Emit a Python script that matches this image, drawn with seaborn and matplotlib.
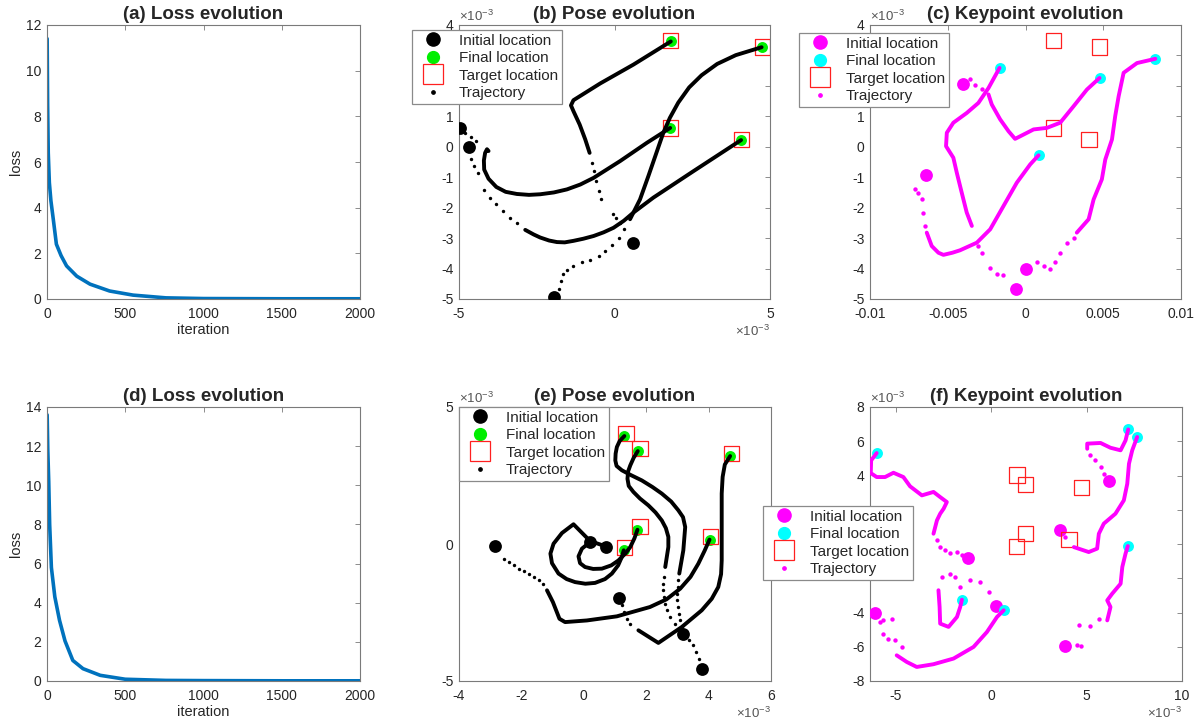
import numpy as np
import seaborn as sns
import matplotlib
matplotlib.use("Agg")
import matplotlib.pyplot as plt
from matplotlib.lines import Line2D

sns.set_style("white")
plt.rcParams['font.family'] = ['Liberation Sans', 'DejaVu Sans']
plt.rcParams['mathtext.fontset'] = 'custom'
plt.rcParams['mathtext.rm'] = 'Liberation Sans'
plt.rcParams['mathtext.it'] = 'Liberation Sans:italic'
plt.rcParams['axes.unicode_minus'] = False

# ---------------- loss curves ----------------
loss_a_iter = [1, 4, 8, 15, 25, 40, 60, 90, 125, 190, 275, 400, 550, 760, 1000, 1500, 2000]
loss_a_val = [11.4, 8.5, 6.4, 5.1, 4.3, 3.5, 2.4, 1.9, 1.45, 1.0, 0.65, 0.35, 0.17, 0.05, 0.02, 0.01, 0.01]
loss_d_iter = [1, 5, 11, 17, 28, 50, 80, 115, 165, 230, 340, 500, 760, 1000, 1500, 2000]
loss_d_val = [13.6, 11.8, 10.2, 8.0, 5.8, 4.3, 3.1, 2.05, 1.05, 0.63, 0.29, 0.09, 0.03, 0.02, 0.01, 0.01]

# ---------------- top row (units of 1e-3) ----------------
target_top_x = [1.80, 4.75, 1.80, 4.08]
target_top_y = [3.48, 3.28, 0.62, 0.24]

pose_b_init_x = [-4.96, -4.69, -1.93, 0.58]
pose_b_init_y = [0.62, -0.01, -4.93, -3.17]
pose_b_final_x = [1.79, 4.07, 4.73, 1.81]
pose_b_final_y = [0.62, 0.22, 3.27, 3.46]

pose_b1_sparse = [(-4.80, 0.44), (-4.62, 0.33), (-4.44, 0.19)]
pose_b1_dense = [(-4.05, -0.14), (-4.10, -0.08), (-4.16, -0.20), (-4.20, -0.45), (-4.19, -0.75),
                 (-4.05, -1.05), (-3.80, -1.32), (-3.50, -1.48), (-3.14, -1.55), (-2.75, -1.58),
                 (-2.39, -1.56), (-1.95, -1.50), (-1.53, -1.40), (-1.10, -1.24), (-0.67, -1.02),
                 (0.18, -0.47), (1.04, 0.13), (1.79, 0.62)]
pose_b2_sparse = [(-4.60, -0.39), (-4.51, -0.63), (-4.40, -0.85), (-4.21, -1.42), (-4.01, -1.67),
                  (-3.80, -1.89), (-3.59, -2.11), (-3.35, -2.33), (-3.12, -2.51)]
pose_b2_dense = [(-2.87, -2.73), (-2.60, -2.88), (-2.39, -2.98), (-2.10, -3.08), (-1.85, -3.13),
                 (-1.60, -3.14), (-1.32, -3.09), (-1.00, -3.02), (-0.67, -2.93), (-0.35, -2.81),
                 (-0.03, -2.66), (0.30, -2.43), (0.61, -2.16), (1.25, -1.67), (2.54, -0.80),
                 (4.07, 0.22)]
pose_b3_sparse = [(-1.77, -4.68), (-1.71, -4.40), (-1.67, -4.19), (-1.53, -4.04), (-1.32, -3.91),
                  (-1.05, -3.80), (-0.78, -3.72), (-0.51, -3.58), (-0.30, -3.42), (-0.09, -3.23),
                  (0.13, -2.98), (0.31, -2.71)]
pose_b3_dense = [(0.50, -2.38), (0.82, -1.73), (1.09, -0.96), (1.31, -0.31), (1.57, 0.46),
                 (1.78, 0.95), (2.05, 1.45), (2.40, 1.95), (2.80, 2.35), (3.30, 2.72),
                 (3.90, 3.01), (4.73, 3.27)]
pose_b4_sparse = [(0.18, -2.51), (0.05, -2.33), (-0.05, -2.20), (-0.44, -1.70), (-0.51, -1.45),
                  (-0.59, -1.13), (-0.65, -0.80), (-0.72, -0.52)]
pose_b4_dense = [(-0.80, -0.20), (-0.94, 0.24), (-1.12, 0.73), (-1.32, 1.17), (-1.40, 1.36),
                 (-1.32, 1.53), (-0.46, 2.08), (0.61, 2.70), (1.81, 3.46)]

kp_c_init_x = [-4.03, -6.39, -0.64, 0.02]
kp_c_init_y = [2.07, -0.94, -4.68, -4.00]
kp_c_final_x = [4.76, 0.84, -1.67, 8.35]
kp_c_final_y = [2.26, -0.28, 2.59, 2.89]

kp_c1_sparse = [(-3.56, 2.23), (-3.24, 2.04), (-2.81, 1.90)]
kp_c1_dense = [(-2.38, 1.72), (-2.17, 1.39), (-1.63, 0.90), (-1.09, 0.51), (-0.67, 0.26),
               (-0.13, 0.40), (0.52, 0.57), (1.37, 0.62), (2.23, 0.79), (3.09, 1.33),
               (3.95, 1.88), (4.76, 2.26)]
kp_c2_sparse = [(-7.10, -1.40), (-6.89, -1.51), (-6.67, -1.73), (-6.57, -2.16), (-6.46, -2.60)]
kp_c2_dense = [(-6.35, -2.82), (-6.03, -3.26), (-5.60, -3.48), (-5.28, -3.55), (-4.70, -3.48),
               (-4.21, -3.40), (-3.13, -3.15), (-2.27, -2.71), (-1.42, -1.95), (-0.56, -1.18),
               (0.30, -0.58), (0.84, -0.28)]
kp_c3_sparse = [(-1.42, -4.22), (-1.85, -4.19), (-2.27, -3.97), (-2.81, -3.48), (-3.03, -3.26)]
kp_c3_dense = [(-3.45, -2.60), (-3.78, -2.16), (-4.10, -1.51), (-4.42, -0.85), (-4.64, -0.36),
               (-5.11, 0.02), (-5.06, 0.46), (-4.64, 0.79), (-3.78, 1.11), (-3.03, 1.44),
               (-2.38, 1.93), (-1.67, 2.59)]
kp_c4_sparse = [(0.73, -3.80), (1.16, -3.91), (1.59, -4.02), (1.91, -3.80), (2.23, -3.48),
                (2.66, -3.15), (3.09, -2.99)]
kp_c4_dense = [(3.30, -2.82), (4.06, -2.38), (4.38, -1.73), (4.91, -1.07), (5.13, -0.42),
               (5.56, 0.24), (5.77, 1.01), (5.99, 1.66), (6.31, 2.43), (7.17, 2.75), (8.35, 2.89)]

# ---------------- bottom row (units of 1e-3) ----------------
target_bot_x = [1.35, 1.80, 4.74, 1.80, 4.07, 1.31]
target_bot_y = [4.03, 3.49, 3.30, 0.63, 0.26, -0.13]

pose_e_init_x = [-2.86, 0.72, 0.20, 1.13, 3.19, 3.78]
pose_e_init_y = [-0.07, -0.11, 0.07, -1.97, -3.27, -4.57]
pose_e_final_x = [4.03, 1.28, 1.72, 4.69, 1.30, 1.73]
pose_e_final_y = [0.16, -0.23, 0.52, 3.21, 3.94, 3.39]

pose_e1_sparse = [(-2.57, -0.56), (-2.41, -0.66), (-2.25, -0.78), (-2.09, -0.90), (-1.93, -0.99),
                  (-1.77, -1.11), (-1.61, -1.20), (-1.45, -1.33), (-1.31, -1.47)]
pose_e1_dense = [(-1.18, -1.69), (-0.99, -2.12), (-0.78, -2.73), (-0.60, -2.85), (0.10, -2.79),
                 (1.06, -2.64), (2.12, -2.30), (2.65, -2.02), (3.09, -1.63), (3.42, -1.20),
                 (3.67, -0.72), (3.87, -0.25), (4.03, 0.16)]
pose_e2_sparse = []
pose_e2_dense = [(0.71, -0.09), (0.20, 0.11), (-0.33, 0.72), (-0.70, 0.40), (-0.97, 0.01),
                 (-1.07, -0.35), (-1.02, -0.70), (-0.81, -1.08), (-0.55, -1.28), (-0.28, -1.39),
                 (0.05, -1.45), (0.36, -1.42), (0.68, -1.28), (0.90, -1.08), (1.10, -0.78),
                 (1.22, -0.47), (1.28, -0.23)]
pose_e3_sparse = []
pose_e3_dense = [(0.20, 0.07), (-0.06, -0.17), (-0.17, -0.45), (-0.12, -0.70), (0.04, -0.84),
                 (0.30, -0.91), (0.58, -0.90), (0.88, -0.78), (1.11, -0.60), (1.33, -0.35),
                 (1.49, -0.11), (1.62, 0.20), (1.72, 0.52)]
pose_e4_sparse = [(1.22, -2.24), (1.29, -2.48), (1.38, -2.73), (1.49, -2.91)]
pose_e4_dense = [(1.75, -3.15), (2.39, -3.61), (3.14, -3.03), (3.78, -2.42), (4.10, -2.00),
                 (4.31, -1.57), (4.40, -1.10), (4.42, -0.60), (4.42, 0.62), (4.42, 1.84),
                 (4.45, 2.45), (4.52, 2.90), (4.69, 3.21)]
pose_e5_sparse = [(3.14, -3.03), (3.09, -2.79), (3.04, -2.54), (3.01, -2.30), (3.00, -2.06),
                  (3.00, -1.81), (3.01, -1.57), (3.03, -1.33)]
pose_e5_dense = [(3.06, -1.08), (3.19, -0.23), (3.25, 0.62), (3.18, 0.98), (3.03, 1.23),
                 (2.80, 1.55), (2.50, 1.84), (2.20, 2.08), (1.86, 2.32), (1.50, 2.52),
                 (1.22, 2.69), (1.05, 2.85), (1.01, 3.05), (1.02, 3.30), (1.06, 3.54),
                 (1.15, 3.76), (1.30, 3.94)]
pose_e6_sparse = [(3.70, -4.21), (3.60, -3.94), (3.49, -3.70), (3.37, -3.49), (2.93, -2.91),
                  (2.77, -2.66), (2.66, -2.42), (2.61, -2.18), (2.58, -1.93), (2.55, -1.69),
                  (2.55, -1.45), (2.58, -1.20)]
pose_e6_dense = [(2.61, -0.84), (2.71, -0.11), (2.71, 0.26), (2.63, 0.58), (2.50, 0.86),
                 (2.30, 1.15), (2.07, 1.41), (1.80, 1.66), (1.59, 1.90), (1.44, 2.12),
                 (1.40, 2.38), (1.42, 2.65), (1.49, 2.87), (1.60, 3.15), (1.73, 3.39)]

kp_f_init_x = [-1.24, 0.25, -6.09, 3.89, 3.59, 6.16]
kp_f_init_y = [-0.80, -3.64, -4.03, -5.97, 0.80, 3.68]
kp_f_final_x = [-6.01, -1.54, 0.65, 7.16, 7.65, 7.18]
kp_f_final_y = [5.31, -3.25, -3.87, -0.12, 6.25, 6.69]

kp_f1_sparse = [(-1.54, -0.66), (-1.80, -0.47), (-2.15, -0.53), (-2.42, -0.37), (-2.68, -0.18),
                (-2.85, 0.21)]
kp_f1_dense = [(-3.03, 0.60), (-2.94, 0.99), (-2.85, 1.38), (-2.68, 1.77), (-2.50, 2.06),
               (-2.33, 2.45), (-2.68, 2.74), (-3.03, 3.04), (-3.64, 2.84), (-4.26, 3.37),
               (-4.61, 3.91), (-5.13, 4.16), (-5.57, 3.91), (-6.01, 3.91), (-6.32, 4.14),
               (-6.30, 4.88), (-6.01, 5.31)]
kp_f2_sparse = [(-0.14, -2.80), (-0.58, -2.22), (-1.10, -2.12), (-1.63, -2.51), (-1.89, -1.93),
                (-2.15, -1.73), (-2.59, -1.93)]
kp_f2_dense = [(-2.77, -2.70), (-2.71, -3.68), (-2.68, -4.65), (-2.24, -4.84), (-1.80, -4.26),
               (-1.63, -3.68), (-1.54, -3.25)]
kp_f3_sparse = [(-5.83, -4.55), (-5.66, -4.46), (-5.22, -4.36), (-5.66, -5.23), (-5.39, -5.53),
                (-5.04, -5.62), (-4.69, -6.01)]
kp_f3_dense = [(-4.96, -6.50), (-4.43, -6.89), (-3.91, -7.18), (-3.03, -7.02), (-1.98, -6.69),
               (-0.93, -6.01), (-0.23, -5.14), (0.30, -4.26), (0.65, -3.87)]
kp_f4_sparse = [(4.50, -5.91), (4.68, -5.97), (4.59, -4.75), (5.20, -4.79), (5.64, -4.36)]
kp_f4_dense = [(6.08, -4.46), (6.25, -3.68), (6.08, -3.29), (6.34, -2.90), (6.78, -2.32),
               (6.87, -1.34), (7.04, -0.56), (7.16, -0.12)]
kp_f5_sparse = [(3.89, 0.41)]
kp_f5_dense = [(4.33, -0.18), (5.11, -0.47), (5.55, -0.27), (5.64, 0.60), (5.90, 1.19),
               (6.51, 1.77), (6.95, 2.55), (7.13, 3.52), (7.22, 4.69), (7.39, 5.47), (7.65, 6.25)]
kp_f6_sparse = [(5.90, 4.11), (5.73, 4.49), (5.46, 4.88), (5.20, 5.18)]
kp_f6_dense = [(5.03, 5.56), (5.03, 5.86), (5.73, 5.90), (6.25, 5.62), (6.78, 5.47),
               (7.04, 6.05), (7.18, 6.69)]

AX_COLOR = '#262626'
SPINE = '#7a7a7a'
TITLE_FS = 13.5


def style_axes(ax):
    ax.tick_params(direction='in', top=True, right=True, length=3.5, width=0.6,
                   labelsize=10, colors=AX_COLOR, pad=4)
    ax.tick_params(axis='x', pad=6)
    ax.tick_params(axis='both', which='both', color=SPINE)
    for s in ax.spines.values():
        s.set_color(SPINE)
        s.set_linewidth(0.8)
    ax.set_facecolor('white')


def exp_labels(ax, xoff=True):
    lab = r'$\times10^{-3}$'
    ax.text(0.0, 1.004, lab, transform=ax.transAxes, ha='left', va='bottom',
            fontsize=9.5, color='#555555')
    if xoff:
        ax.text(1.0, -0.09, lab, transform=ax.transAxes, ha='right', va='top',
                fontsize=9.5, color='#555555')


def hide_ylabels(ax, ticks, hidden):
    ax.set_yticks(ticks)
    ax.set_yticklabels(['' if t in hidden else str(t) for t in ticks])


def loss_panel(ax, iters, vals, ymax, title):
    sns.lineplot(x=iters, y=vals, color='#0072BD', lw=2.6, ax=ax)
    ax.set_xlim(0, 2000)
    ax.set_ylim(0, ymax)
    ax.set_xticks([0, 500, 1000, 1500, 2000])
    ax.set_yticks(range(0, ymax + 1, 2))
    ax.set_xlabel('iteration', fontsize=10.5, color=AX_COLOR, labelpad=1)
    ax.set_ylabel('loss', fontsize=10.5, color=AX_COLOR, labelpad=2)
    ax.set_title(title, fontsize=TITLE_FS, fontweight='bold', pad=4)
    style_axes(ax)


def draw_traj(ax, sparse, dense, color, lw, dot):
    if len(sparse):
        sp = np.array(sparse)
        sns.scatterplot(x=sp[:, 0], y=sp[:, 1], color=color, s=dot, linewidth=0,
                        ax=ax, zorder=5)
    d = np.array(dense)
    sns.lineplot(x=d[:, 0], y=d[:, 1], sort=False, estimator=None, color=color,
                 lw=lw, ax=ax, zorder=5, solid_joinstyle='round', solid_capstyle='round')


def marker_panel(ax, ix, iy, fx, fy, tx, ty, trajs, c_init, c_fin, c_traj, lw, dot):
    sns.scatterplot(x=ix, y=iy, color=c_init, s=85, linewidth=0, ax=ax, zorder=3)
    sns.scatterplot(x=fx, y=fy, color=c_fin, s=62, linewidth=0, ax=ax, zorder=3)
    sns.scatterplot(x=tx, y=ty, marker='s', s=120, facecolor='none', edgecolor='#ff2020',
                    linewidth=0.9, ax=ax, zorder=4)
    for sp, dn in trajs:
        draw_traj(ax, sp, dn, c_traj, lw, dot)
    style_axes(ax)


def legend_for(fig, c_init, c_fin, c_traj, anchor):
    handles = [
        Line2D([], [], ls='none', marker='o', ms=9.5, mfc=c_init, mec=c_init),
        Line2D([], [], ls='none', marker='o', ms=8.5, mfc=c_fin, mec=c_fin),
        Line2D([], [], ls='none', marker='s', ms=14, mfc='none', mec='#ff2020', mew=0.9),
        Line2D([], [], ls='none', marker='o', ms=2.4, mfc=c_traj, mec=c_traj),
    ]
    labels = ['Initial location', 'Final location', 'Target location', 'Trajectory']
    leg = fig.legend(handles, labels, loc='upper left', bbox_to_anchor=anchor,
                     bbox_transform=fig.transFigure, fontsize=11, frameon=True,
                     fancybox=False, framealpha=1, edgecolor='#8a8a8a',
                     borderpad=0.25, labelspacing=0.22, handlelength=2.2,
                     handletextpad=0.6, borderaxespad=0)
    leg.get_frame().set_linewidth(0.9)
    leg.set_zorder(10)
    return leg


fig = plt.figure(figsize=(11.99, 7.27), dpi=100)
H = 274 / 727
ax_a = fig.add_axes([47 / 1199, 1 - 299 / 727, 313 / 1199, H])
ax_b = fig.add_axes([459 / 1199, 1 - 299 / 727, 311 / 1199, H])
ax_c = fig.add_axes([870 / 1199, 1 - 299 / 727, 311 / 1199, H])
ax_d = fig.add_axes([47 / 1199, 1 - 681 / 727, 313 / 1199, H])
ax_e = fig.add_axes([459 / 1199, 1 - 681 / 727, 312 / 1199, H])
ax_f = fig.add_axes([870 / 1199, 1 - 681 / 727, 312 / 1199, H])

loss_panel(ax_a, loss_a_iter, loss_a_val, 12, '(a) Loss evolution')
loss_panel(ax_d, loss_d_iter, loss_d_val, 14, '(d) Loss evolution')

# (b) pose, top
marker_panel(ax_b, pose_b_init_x, pose_b_init_y, pose_b_final_x, pose_b_final_y,
             target_top_x, target_top_y,
             [(pose_b1_sparse, pose_b1_dense), (pose_b2_sparse, pose_b2_dense),
              (pose_b3_sparse, pose_b3_dense), (pose_b4_sparse, pose_b4_dense)],
             'black', '#00ee00', 'black', 2.8, 6)
ax_b.set_xlim(-5, 5)
ax_b.set_ylim(-5, 4)
ax_b.set_xticks([-5, 0, 5])
hide_ylabels(ax_b, list(range(-5, 5)), [2, 3])
ax_b.set_title('(b) Pose evolution', fontsize=TITLE_FS, fontweight='bold', pad=4)
exp_labels(ax_b)

# (c) keypoints, top
marker_panel(ax_c, kp_c_init_x, kp_c_init_y, kp_c_final_x, kp_c_final_y,
             target_top_x, target_top_y,
             [(kp_c1_sparse, kp_c1_dense), (kp_c2_sparse, kp_c2_dense),
              (kp_c3_sparse, kp_c3_dense), (kp_c4_sparse, kp_c4_dense)],
             '#ff00ff', '#00ffff', '#ff00ff', 2.8, 10)
ax_c.set_xlim(-10, 10)
ax_c.set_ylim(-5, 4)
ax_c.set_xticks([-10, -5, 0, 5, 10])
ax_c.set_xticklabels(['-0.01', '-0.005', '0', '0.005', '0.01'])
hide_ylabels(ax_c, list(range(-5, 5)), [2, 3])
ax_c.set_title('(c) Keypoint evolution', fontsize=TITLE_FS, fontweight='bold', pad=4)
exp_labels(ax_c, xoff=False)

# (e) pose, bottom
marker_panel(ax_e, pose_e_init_x, pose_e_init_y, pose_e_final_x, pose_e_final_y,
             target_bot_x, target_bot_y,
             [(pose_e1_sparse, pose_e1_dense), (pose_e2_sparse, pose_e2_dense),
              (pose_e3_sparse, pose_e3_dense), (pose_e4_sparse, pose_e4_dense),
              (pose_e5_sparse, pose_e5_dense), (pose_e6_sparse, pose_e6_dense)],
             'black', '#00ee00', 'black', 2.8, 6)
ax_e.set_xlim(-4, 6)
ax_e.set_ylim(-5, 5)
ax_e.set_xticks([-4, -2, 0, 2, 4, 6])
ax_e.set_yticks([-5, 0, 5])
ax_e.set_title('(e) Pose evolution', fontsize=TITLE_FS, fontweight='bold', pad=4)
exp_labels(ax_e)

# (f) keypoints, bottom
marker_panel(ax_f, kp_f_init_x, kp_f_init_y, kp_f_final_x, kp_f_final_y,
             target_bot_x, target_bot_y,
             [(kp_f1_sparse, kp_f1_dense), (kp_f2_sparse, kp_f2_dense),
              (kp_f3_sparse, kp_f3_dense), (kp_f4_sparse, kp_f4_dense),
              (kp_f5_sparse, kp_f5_dense), (kp_f6_sparse, kp_f6_dense)],
             '#ff00ff', '#00ffff', '#ff00ff', 2.8, 10)
ax_f.set_xlim(-6.36, 10)
ax_f.set_ylim(-8, 8)
ax_f.set_xticks([-5, 0, 5, 10])
hide_ylabels(ax_f, list(range(-8, 9, 2)), [-2, 0, 2])
ax_f.set_title('(f) Keypoint evolution', fontsize=TITLE_FS, fontweight='bold', pad=4)
exp_labels(ax_f)

legend_for(fig, 'black', '#00ee00', 'black', (412 / 1199, 1 - 30 / 727))
legend_for(fig, '#ff00ff', '#00ffff', '#ff00ff', (799 / 1199, 1 - 33 / 727))
legend_for(fig, 'black', '#00ee00', 'black', (459 / 1199, 1 - 407 / 727))
legend_for(fig, '#ff00ff', '#00ffff', '#ff00ff', (763 / 1199, 1 - 506 / 727))

fig.savefig('out.png', dpi=100)
